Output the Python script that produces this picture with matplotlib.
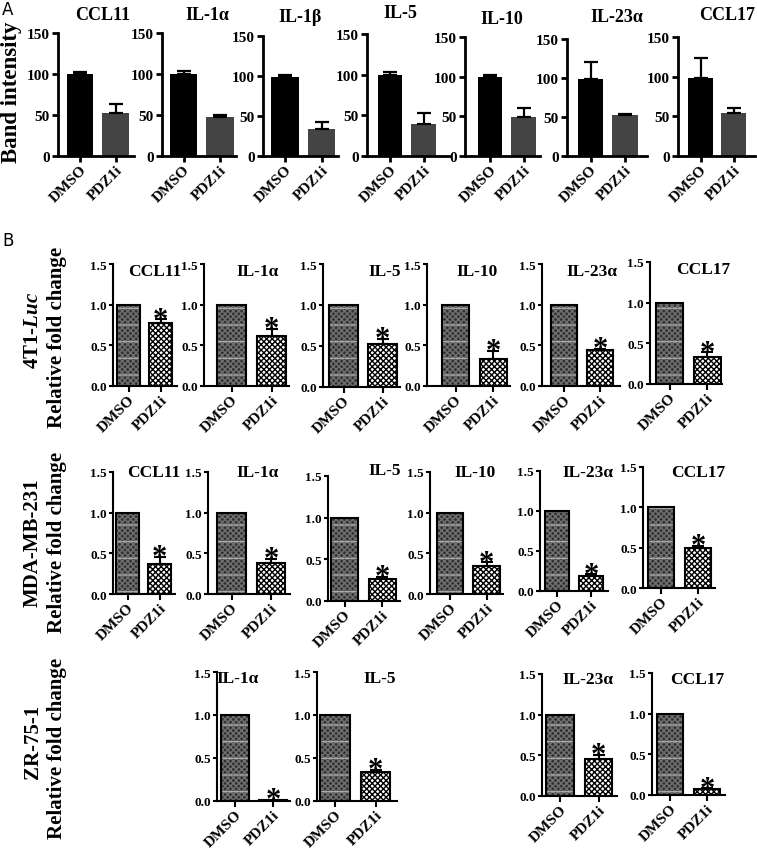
import matplotlib.pyplot as plt
import numpy as np

plt.rcParams['font.family'] = 'Liberation Serif'
plt.rcParams['font.weight'] = 'bold'
plt.rcParams['mathtext.fontset'] = 'custom'
plt.rcParams['mathtext.it'] = 'Liberation Serif:italic:bold'
plt.rcParams['mathtext.rm'] = 'Liberation Serif:bold'
plt.rcParams['hatch.linewidth'] = 1.0

W, H = 757, 853
groups = ['DMSO', 'PDZ1i']

# ---- panel A : band intensity ----
a_genes = ['CCL11', 'IL-1α', 'IL-1β', 'IL-5', 'IL-10', 'IL-23α', 'CCL17']
a_dmso = [100, 100, 99, 100, 100, 99, 98]
a_dmso_err = [2, 4, 2, 3, 2, 21, 26]
a_pdz = [53, 47, 34, 39, 49, 52, 54]
a_pdz_err = [11, 3, 8, 14, 11, 2, 6]

# ---- panel B : relative fold change ----
b_rows = ['4T1-$\\it{Luc}$', 'MDA-MB-231', 'ZR-75-1']
b_genes = [['CCL11', 'IL-1α', 'IL-5', 'IL-10', 'IL-23α', 'CCL17'],
           ['CCL11', 'IL-1α', 'IL-5', 'IL-10', 'IL-23α', 'CCL17'],
           ['IL-1α', 'IL-5', 'IL-23α', 'CCL17']]
b_dmso = [[1, 1, 1, 1, 1, 1],
          [1, 1, 1, 1, 1, 1],
          [1, 1, 1, 1]]
b_pdz = [[0.78, 0.62, 0.52, 0.33, 0.44, 0.33],
         [0.37, 0.38, 0.26, 0.34, 0.19, 0.50],
         [0.01, 0.34, 0.46, 0.07]]
b_pdz_err = [[0.04, 0.08, 0.07, 0.10, 0.02, 0.06],
             [0.09, 0.05, 0.03, 0.05, 0.02, 0.02],
             [0.0, 0.02, 0.05, 0.01]]

# layout in pixels: y-axis x, bar0 centre, bar1 centre, axis end, top, zero
a_layout = [(58, 80, 115.5, 134, 34, 157), (162, 183.5, 220, 236, 34, 157),
            (263, 285, 321.5, 338, 37, 157), (367, 390, 423.5, 450, 35, 157),
            (465, 490, 523.5, 540, 38, 157), (567, 590.5, 625, 647, 40, 157),
            (678, 700.5, 733.5, 755, 38, 157)]
a_titles = [(103, 15), (207, 15), (300, 17), (400, 13), (502, 20), (617, 18), (727, 15)]

b_layout = [[(113, 128.5, 160.5, 177, 265, 387), (204, 231.5, 271.5, 289, 265, 387),
             (323, 343.5, 382.5, 400, 265, 388), (427, 455.5, 493, 510, 265, 387),
             (542, 564, 600, 620, 265, 387), (650, 669.5, 707, 722, 263, 385)],
            [(113, 127.5, 159.5, 175, 473, 595), (208, 231.5, 271, 290, 473, 595),
             (328, 344.5, 382, 400, 477, 602), (430, 450, 486.5, 503, 473, 595),
             (540, 557, 591, 608, 472, 592), (643, 661, 698, 715, 468, 589)],
            [(217, 235, 273, 290, 673, 802), (317, 335, 375.5, 397, 673, 802),
             (542, 560, 598.5, 617, 675, 797), (652, 670, 707, 725, 674, 796)]]
b_titles = [[(155, 272), (258, 272), (385, 272), (477, 272), (592, 272), (703, 270)],
            [(154, 473), (258, 473), (385, 471), (475, 473), (588, 473), (698, 473)],
            [(238, 679), (380, 679), (588, 680), (697, 680)]]
b_labels = [(33, 330, 57, 337), (33, 543, 57, 542), (33, 742, 57, 748)]

fig = plt.figure(figsize=(W / 100, H / 100), dpi=100)


def make_ax(lay, ymax, lw):
    x0, c0, c1, x1, top, zero = lay
    ax = fig.add_axes([x0 / W, 1 - zero / H, (x1 - x0) / W, (zero - top) / H])
    s = c1 - c0
    ax.set_xlim((x0 - c0) / s, (x1 - c0) / s)
    ax.set_ylim(0, ymax)
    ax.spines[['top', 'right']].set_visible(False)
    for sp in ['left', 'bottom']:
        ax.spines[sp].set_linewidth(lw)
    ax.tick_params(width=lw, length=4, direction='out', pad=1)
    ax.set_xticks([0, 1])
    ax.set_xticklabels(groups, rotation=45, ha='right', rotation_mode='anchor',
                       fontsize=11)
    return ax


def ftext(x, y, s, **kw):
    fig.text(x / W, 1 - y / H, s, ha='center', va='center', **kw)


# panel A
for i, g in enumerate(a_genes):
    ax = make_ax(a_layout[i], 150, 2)
    ax.bar(0, a_dmso[i], 0.74, color='black')
    ax.bar(1, a_pdz[i], 0.74, color='#444444')
    ax.errorbar([0, 1], [a_dmso[i], a_pdz[i]],
                yerr=[[0, 0], [a_dmso_err[i], a_pdz_err[i]]],
                fmt='none', ecolor='black', elinewidth=1.6, capsize=5, capthick=1.6)
    ax.set_yticks([0, 50, 100, 150])
    ax.tick_params(axis='y', labelsize=11, pad=2)
    ftext(*a_titles[i], g, fontsize=13)

ftext(12, 92, 'Band intensity', rotation=90, fontsize=16.5)

# panel B
for r in range(len(b_rows)):
    for j, g in enumerate(b_genes[r]):
        ax = make_ax(b_layout[r][j], 1.5, 1.5)
        ax.bar(0, b_dmso[r][j], 0.72, color='#303030', edgecolor='#707070',
               hatch='xxxxxx', linewidth=0)
        ax.bar(0, b_dmso[r][j], 0.72, fill=False, edgecolor='#a8a8a8',
               hatch='-', linewidth=0)
        ax.bar(1, b_pdz[r][j], 0.72, color='white', edgecolor='black',
               hatch='xxxxxx', linewidth=0)
        ax.bar([0, 1], [b_dmso[r][j], b_pdz[r][j]], 0.72, fill=False,
               edgecolor='black', linewidth=1.5)
        top = b_pdz[r][j] + b_pdz_err[r][j]
        if b_pdz_err[r][j] > 0:
            ax.errorbar([1], [b_pdz[r][j]], yerr=[[0], [b_pdz_err[r][j]]],
                        fmt='none', ecolor='black', elinewidth=1.5,
                        capsize=4.5, capthick=1.5)
        ax.annotate('*', xy=(1, top), xytext=(0, -6), textcoords='offset points',
                    ha='center', va='baseline', fontsize=22)
        ax.set_yticks([0, 0.5, 1.0, 1.5])
        ax.set_yticklabels(['0.0', '0.5', '1.0', '1.5'])
        ax.tick_params(axis='y', labelsize=9.5, length=3, pad=1.5)
        ftext(*b_titles[r][j], g, fontsize=12.5)
    lx, ly, rx, ry = b_labels[r]
    ftext(lx, ly, b_rows[r], rotation=90, fontsize=15)
    ftext(rx, ry, 'Relative fold change', rotation=90, fontsize=15)

fig.text(2 / W, 1 - 1 / H, 'A', family='DejaVu Sans', weight='normal',
         fontsize=12, ha='left', va='top')
fig.text(2 / W, 1 - 232 / H, 'B', family='DejaVu Sans', weight='normal',
         fontsize=12, ha='left', va='top')

fig.savefig('out.png', dpi=100)
